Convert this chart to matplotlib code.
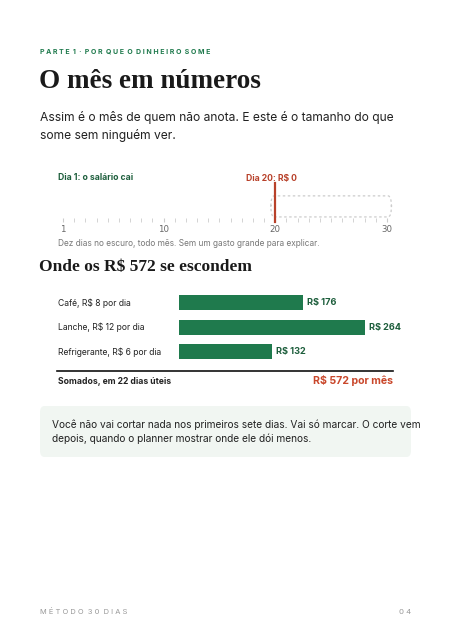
import matplotlib
matplotlib.use("Agg")
import matplotlib.pyplot as plt
from matplotlib.patches import FancyBboxPatch

GREEN = "#1f7a4d"; DGREEN = "#1d5e3c"; RED = "#b8412a"; DARK = "#222222"
categories = ["Café, R$ 8 por dia", "Lanche, R$ 12 por dia", "Refrigerante, R$ 6 por dia"]
values = [176, 264, 132]
value_labels = ["R$ 176", "R$ 264", "R$ 132"]
days = list(range(1, 31))
day_ticks = [1, 10, 20, 30]
zero_day = 20
total_label = "R$ 572 por mês"

W, H = 451, 640
fig = plt.figure(figsize=(W/100, H/100), dpi=100)
fig.patch.set_facecolor("white")
SANS = ["Inter", "DejaVu Sans"]; SERIF = ["Liberation Serif", "DejaVu Serif"]

def T(x, y, s, **kw):
    kw.setdefault("family", SANS)
    kw.setdefault("va", "center")
    fig.text(x/W, 1-y/H, s, **kw)

def ax_px(x0, y0, x1, y1):
    return fig.add_axes([x0/W, 1-y1/H, (x1-x0)/W, (y1-y0)/H])

T(40, 51, "P A R T E  1  ·  P O R  Q U E  O  D I N H E I R O  S O M E", size=5.0, weight="bold", color=GREEN)
T(39, 81, "O mês em números", size=19.5, weight="bold", color="#1a1a1a", family=SERIF)
T(40, 118, "Assim é o mês de quem não anota. E este é o tamanho do que", size=8.7, color=DARK)
T(40, 136, "some sem ninguém ver.", size=8.7, color=DARK)

# timeline
ax = ax_px(63, 183, 387, 222)
ax.set_xlim(1, 30); ax.set_ylim(0, 1)
for s in ax.spines.values(): s.set_visible(False)
ax.set_yticks([])
ax.set_xticks(day_ticks); ax.set_xticks(days, minor=True)
ax.tick_params(axis="x", which="both", direction="in", length=3, color="#cccccc", labelsize=6.2, labelcolor="#666666", pad=2)
ax.axvline(zero_day, color=RED, lw=1.6, clip_on=False)
ax.add_patch(FancyBboxPatch((zero_day-0.5+0.1, 0.13), 30.5-(zero_day-0.5)-0.2, 0.54, boxstyle="round,pad=0,rounding_size=0.3",
             fill=False, ls=(0, (2, 2)), ec="#cccccc", lw=0.9, clip_on=False))
T(58, 178, "Dia 1: o salário cai", size=6.2, weight="bold", color=DGREEN)
T(246, 178, "Dia 20: R$ 0", size=6.2, weight="bold", color=RED)
T(58, 244, "Dez dias no escuro, todo mês. Sem um gasto grande para explicar.", size=6.0, color="#777777")

T(39, 267, "Onde os R$ 572 se escondem", size=12.5, weight="bold", color="#1a1a1a", family=SERIF)

# bars
bx = ax_px(179, 290.5, 365, 364)
bx.set_xlim(0, max(values)); bx.set_ylim(2.5, -0.5)
bx.axis("off")
bx.barh(range(len(values)), values, height=0.6, color=GREEN)
for i, (v, lab) in enumerate(zip(values, value_labels)):
    bx.text(v + 5, i, lab, va="center", ha="left", size=6.6, weight="bold", color=DGREEN, family=SANS)
    T(58, 303 + 24.5*i, categories[i], size=6.2, color=DARK)

fig.add_artist(plt.Line2D([57/W, 393/W], [1-371/H, 1-371/H], color="#111111", lw=1.2))
T(58, 381, "Somados, em 22 dias úteis", size=6.2, weight="bold", color=DARK)
T(393, 381, total_label, size=7.6, weight="bold", color="#c9472b", ha="right")

fig.add_artist(FancyBboxPatch((40/W, 1-457/H), 371/W, 51/H, boxstyle="round,pad=0,rounding_size=0.01",
               transform=fig.transFigure, fc="#f1f6f2", ec="none"))
T(52, 425, "Você não vai cortar nada nos primeiros sete dias. Vai só marcar. O corte vem", size=7.3, color=DARK)
T(52, 439, "depois, quando o planner mostrar onde ele dói menos.", size=7.3, color=DARK)

T(40, 612, "M É T O D O  3 0  D I A S", size=5.4, color="#999999")
T(411, 612, "0 4", size=5.6, color="#999999", ha="right")

fig.savefig("out.png", dpi=100, facecolor="white")
